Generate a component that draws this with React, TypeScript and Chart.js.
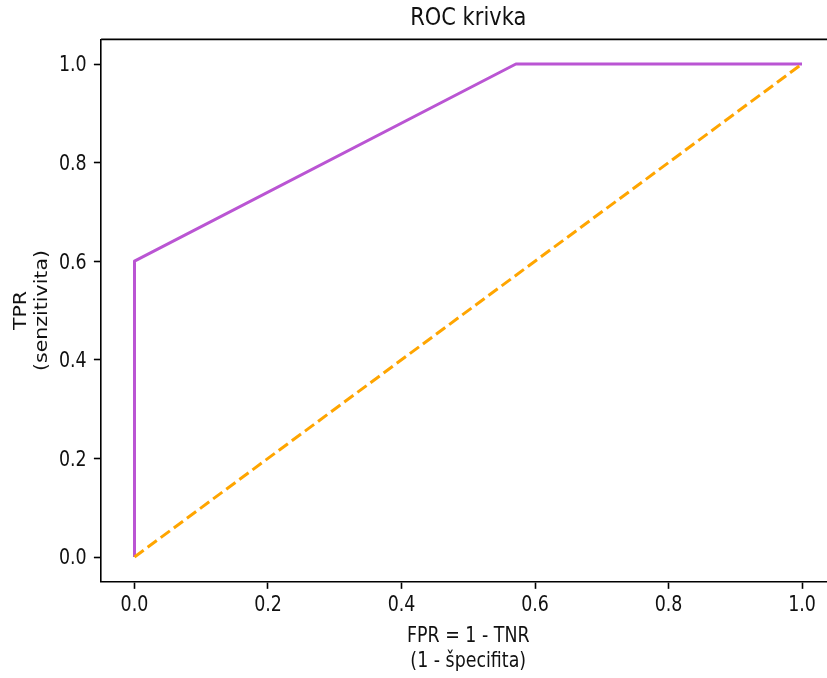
import React, { useEffect, useRef } from "react";
import { Chart, registerables } from "chart.js";

Chart.register(...registerables);

// ROC curve points
const fpr = [0, 0, 0.5714, 1];
const tpr = [0, 0.6, 1, 1];
// chance diagonal
const diagX = [0, 1];
const diagY = [0, 1];

const xTickValues = [0, 0.2, 0.4, 0.6, 0.8, 1.0];
const yTickValues = [0, 0.2, 0.4, 0.6, 0.8, 1.0];

const titleText = "ROC krivka";
const xLabelLines = ["FPR = 1 - TNR", "(1 - špecifita)"];
const yLabelLines = ["TPR", "(senzitivita)"];

const FONT = "'DejaVu Sans', sans-serif";
const SX = 0.85; // horizontal glyph compression
const TICK_SIZE = 20.5;
const LABEL_SIZE = 20.5;
const TITLE_SIZE = 24.7;
const TEXT_COLOR = "#111";
const CAP = 0.729;

const CANVAS_W = 850;
const CANVAS_H = 678;

function drawText(
  ctx: CanvasRenderingContext2D,
  text: string,
  x: number,
  y: number,
  size: number,
  align: CanvasTextAlign,
  rotate = false
) {
  ctx.save();
  ctx.translate(x, y);
  ctx.scale(SX, 1);
  if (rotate) ctx.rotate(-Math.PI / 2);
  ctx.font = `${size}px ${FONT}`;
  ctx.fillStyle = TEXT_COLOR;
  ctx.textAlign = align;
  ctx.textBaseline = "alphabetic";
  ctx.fillText(text, 0, 0);
  ctx.restore();
}

const textPlugin = {
  id: "rocText",
  afterDraw(chart: any) {
    const ctx: CanvasRenderingContext2D = chart.ctx;
    const { left, right, top, bottom } = chart.chartArea;
    const xs = chart.scales.x;
    const ys = chart.scales.y;

    // top and right spines
    ctx.save();
    ctx.strokeStyle = "#000";
    ctx.lineWidth = 1.6;
    ctx.beginPath();
    ctx.moveTo(left, top);
    ctx.lineTo(right, top);
    ctx.lineTo(right, bottom);
    ctx.stroke();
    ctx.restore();

    // tick labels
    const tickGap = 7.2 + 7.2;
    for (const v of xTickValues) {
      const px = xs.getPixelForValue(v);
      drawText(ctx, v.toFixed(1), px, bottom + tickGap + CAP * TICK_SIZE, TICK_SIZE, "center");
    }
    for (const v of yTickValues) {
      const py = ys.getPixelForValue(v);
      drawText(ctx, v.toFixed(1), left - tickGap, py + (CAP * TICK_SIZE) / 2, TICK_SIZE, "right");
    }

    // title
    const cx = (left + right) / 2;
    drawText(ctx, titleText, cx, top - 14, TITLE_SIZE, "center");

    // x axis label
    const lh = 1.2 * LABEL_SIZE;
    xLabelLines.forEach((line, i) => {
      drawText(ctx, line, cx, 642 + i * lh, LABEL_SIZE, "center");
    });

    // y axis label (rotated)
    const cy = (top + bottom) / 2;
    yLabelLines.forEach((line, i) => {
      drawText(ctx, line, 26 + i * lh * SX, cy, LABEL_SIZE, "center", true);
    });
  },
};

export default function App() {
  const canvasRef = useRef<HTMLCanvasElement | null>(null);

  useEffect(() => {
    const canvas = canvasRef.current;
    if (!canvas) return;

    const axisCommon = {
      type: "linear" as const,
      grid: {
        display: true,
        drawOnChartArea: false,
        drawTicks: true,
        tickLength: 7.2,
        tickWidth: 1.6,
        tickColor: "#000",
      },
      border: { display: true, color: "#000", width: 1.6 },
      ticks: { display: false },
    };

    const chart = new Chart(canvas, {
      type: "line",
      data: {
        datasets: [
          {
            label: "diagonal",
            data: diagX.map((x, i) => ({ x, y: diagY[i] })),
            borderColor: "#FFA500",
            borderWidth: 3,
            borderDash: [11.4, 4.9],
            borderCapStyle: "butt",
            pointRadius: 0,
            tension: 0,
            fill: false,
          },
          {
            label: "ROC",
            data: fpr.map((x, i) => ({ x, y: tpr[i] })),
            borderColor: "#BA55D3",
            borderWidth: 3,
            borderJoinStyle: "round",
            borderCapStyle: "butt",
            pointRadius: 0,
            tension: 0,
            fill: false,
          },
        ],
      },
      options: {
        animation: false,
        responsive: false,
        devicePixelRatio: 1,
        events: [],
        layout: {
          padding: { top: 39.35, right: CANVAS_W - 835.4, left: 0, bottom: 0 },
        },
        plugins: {
          legend: { display: false },
          title: { display: false },
          tooltip: { enabled: false },
        },
        scales: {
          x: {
            ...axisCommon,
            min: -0.05,
            max: 1.05,
            afterBuildTicks: (scale: any) => {
              scale.ticks = xTickValues.map((value) => ({ value }));
            },
            afterFit: (scale: any) => {
              scale.height = CANVAS_H - 581.65;
            },
          },
          y: {
            ...axisCommon,
            min: -0.05,
            max: 1.05,
            afterBuildTicks: (scale: any) => {
              scale.ticks = yTickValues.map((value) => ({ value }));
            },
            afterFit: (scale: any) => {
              scale.width = 101.1;
            },
          },
        },
      },
      plugins: [textPlugin],
    });

    return () => chart.destroy();
  }, []);

  return (
    <div
      style={{
        position: "fixed",
        left: 0,
        top: 0,
        width: 827,
        height: 678,
        overflow: "hidden",
        background: "#fff",
      }}
    >
      <canvas
        ref={canvasRef}
        width={CANVAS_W}
        height={CANVAS_H}
        style={{ display: "block", width: CANVAS_W, height: CANVAS_H }}
      />
    </div>
  );
}
